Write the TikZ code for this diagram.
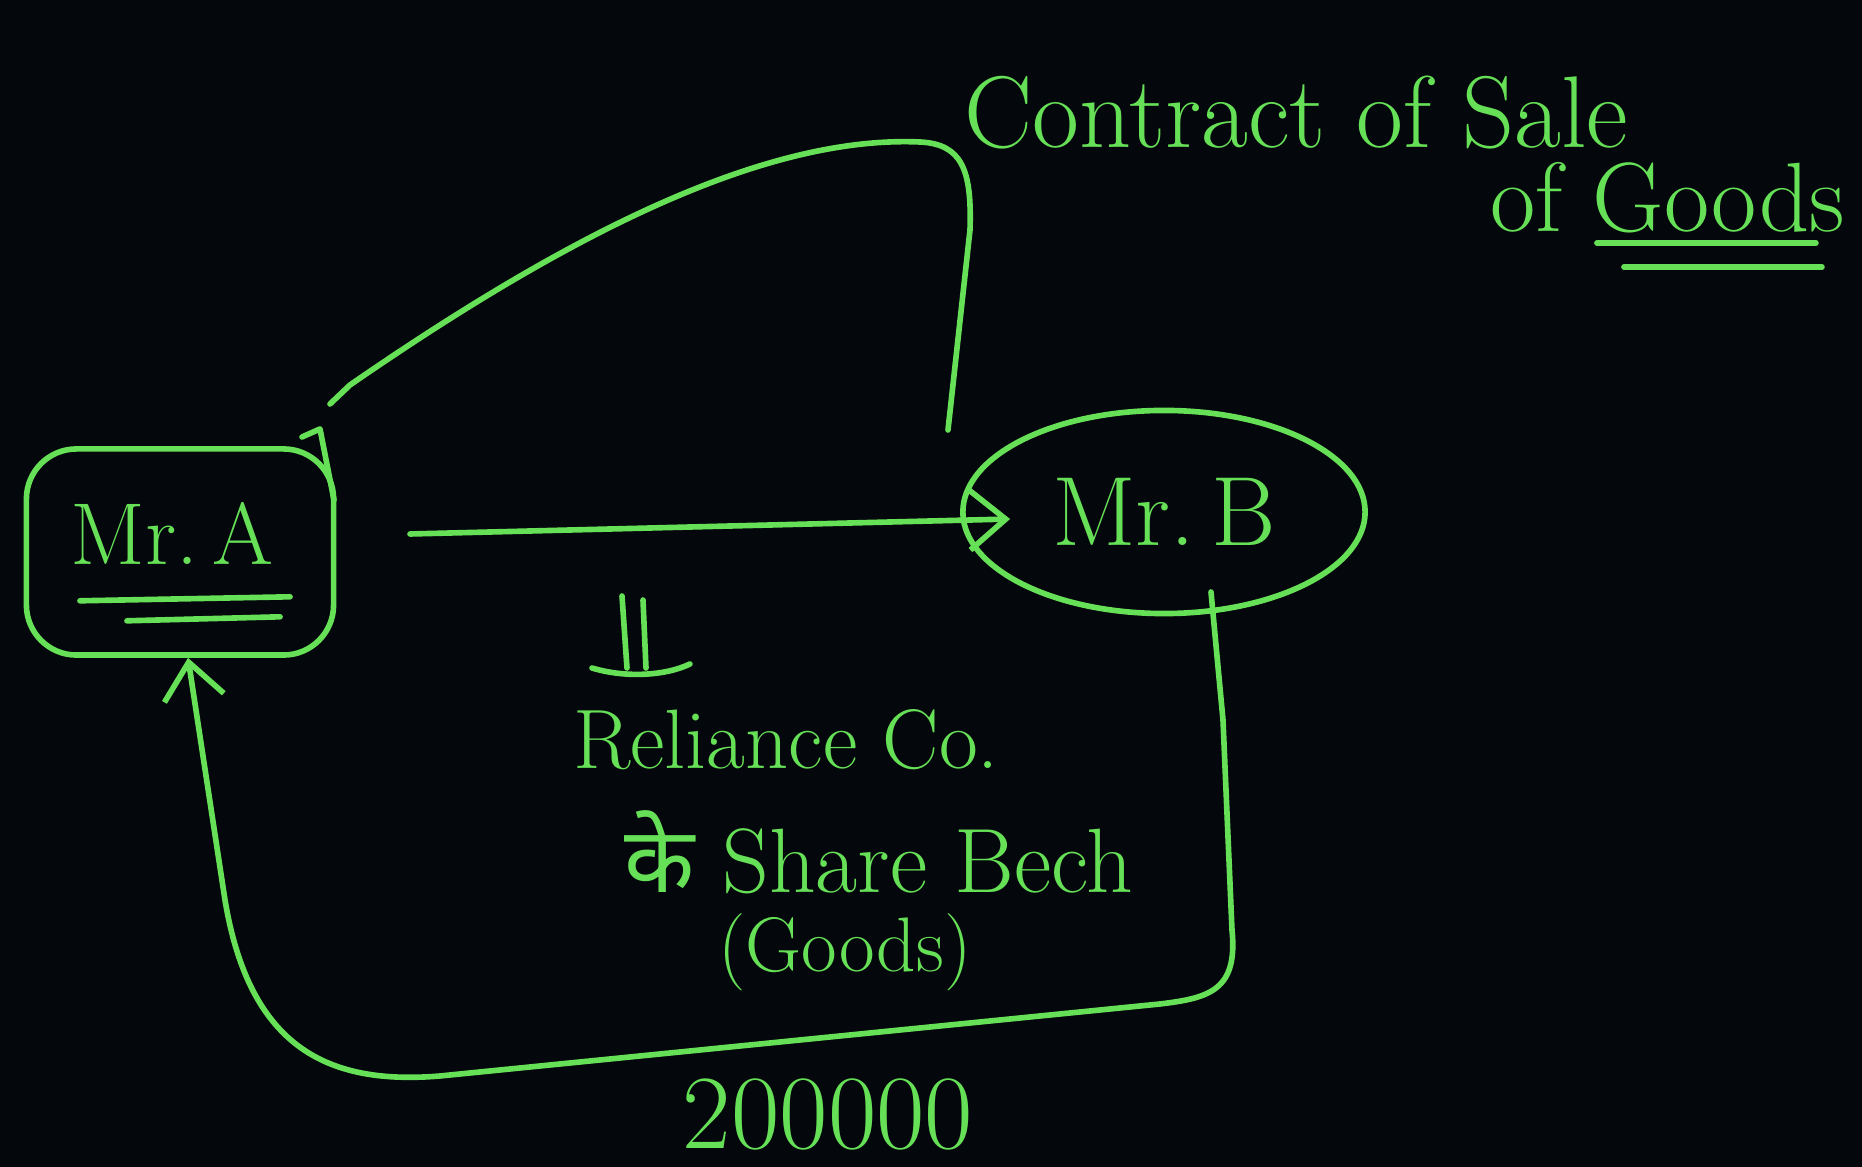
\documentclass[tikz,border=0pt]{standalone}
\usepackage{fontspec}
\usetikzlibrary{arrows.meta,positioning,shapes.geometric}
\newfontfamily\devfont[Script=Devanagari]{Noto Sans}
\definecolor{chalk}{RGB}{102,224,86}
\definecolor{board}{RGB}{4,7,12}

\begin{document}
\begin{tikzpicture}[x=0.01cm,y=-0.01cm,>={Straight Barb[length=3.6mm,width=6mm]},
	chalk line/.style={draw=chalk,line width=1.6pt,line cap=round,line join=round},
	hand/.style={text=chalk,inner sep=0pt},
	personbox/.style={chalk line,rounded corners=5mm,minimum width=3.07cm,minimum height=2.06cm},
	personoval/.style={chalk line,ellipse,minimum width=4.02cm,minimum height=2.03cm,inner sep=0pt}]
		\fill[board] (0,0) rectangle (1862,1167);
		\node[personbox] (mrA) at (180,552) {};
		\node[hand,font=\fontsize{25}{30}\selectfont] (mrAname) at (172,533) {Mr.\,A};
		\draw[chalk line] ([xshift=-0.92cm,yshift=-0.36cm]mrAname.south) -- ([xshift=1.18cm,yshift=-0.32cm]mrAname.south);
		\draw[chalk line] ([xshift=-0.45cm,yshift=-0.56cm]mrAname.south) -- ([xshift=1.08cm,yshift=-0.52cm]mrAname.south);
		\draw[chalk line] (302,437) -- (320,429) .. controls (327,465) .. (334,500);
		\node[personoval,hand,font=\fontsize{28}{32}\selectfont] (mrB) at (1164,512) {Mr.\,B};
		\coordinate (sellStart) at (410,534);
		\draw[chalk line,->] (sellStart) -- ([xshift=0.5cm,yshift=-0.07cm]mrB.west);
		\coordinate (dealStart) at (330,404);
		\coordinate (dealEnd) at (948,430);
		\draw[chalk line] (dealStart) -- (350,385) .. controls (560,240) and (760,135) .. (920,142) .. controls (962,144) and (972,170) .. (970,230) -- (dealEnd);
		\node[hand,anchor=base west,font=\fontsize{29}{34}\selectfont] (contract) at (964,148) {Contract of Sale};
		\node[hand,anchor=base west,font=\fontsize{28}{32}\selectfont] (ofword) at (1490,232) {of};
		\node[hand,anchor=base west,font=\fontsize{28}{32}\selectfont] (goods) at ([xshift=8pt]ofword.base east) {Goods};
		\draw[chalk line] ([xshift=0.05cm,yshift=-0.11cm]goods.base west) -- ([xshift=-0.3cm,yshift=-0.11cm]goods.base east);
		\draw[chalk line] ([xshift=0.32cm,yshift=-0.35cm]goods.base west) -- ([xshift=-0.24cm,yshift=-0.35cm]goods.base east);
		\draw[chalk line] (622,596) -- (627,668);
		\draw[chalk line] (643,600) -- (646,668);
		\draw[chalk line] (592,668) .. controls (625,678) and (665,676) .. (690,664);
		\node[hand,font=\fontsize{24}{28}\selectfont] (reliance) at (786,740) {Reliance Co.};
		\node[hand,font=\fontsize{26}{30}\selectfont] (shareSale) at (879,852) {{\devfont के} Share Bech};
		\node[hand,font=\fontsize{22}{26}\selectfont] (goodsTag) at (845,952) {(Goods)};
		\coordinate (payStart) at (1211,592);
		\draw[chalk line,->] (payStart) -- (1223,720) -- (1232,930) .. controls (1238,990) and (1210,998) .. (1160,1004) -- (440,1076) .. controls (330,1085) and (250,1050) .. (225,900) -- ([xshift=0.08cm]mrA.south);
		\node[hand,font=\fontsize{30}{36}\selectfont] (amount) at (828,1114) {200000};
	\end{tikzpicture}
\end{document}
